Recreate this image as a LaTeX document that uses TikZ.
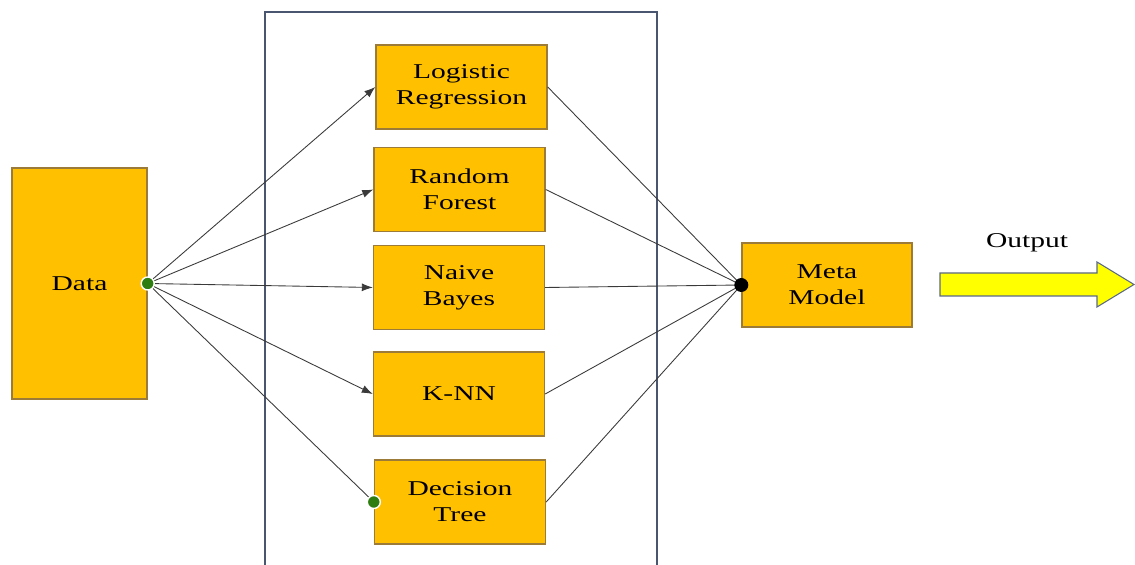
\documentclass[tikz,border=0pt]{standalone}
\usepackage{fontspec}
\setmainfont{Liberation Serif}
\newfontfamily\boxfont[FakeStretch=1.4]{Liberation Serif}
\usepackage{tikz}
\usetikzlibrary{arrows.meta, positioning, calc}
\definecolor{boxfill}{HTML}{FFC000}
\definecolor{boxline}{HTML}{9C7A38}
\definecolor{frameline}{HTML}{4A5670}
\definecolor{ink}{HTML}{3A3A3A}
\definecolor{dotgreen}{HTML}{2E7D10}
\definecolor{outfill}{HTML}{FFFF00}
\definecolor{outline}{HTML}{5A6888}
\tikzset{
  box/.style    ={draw=boxline, thick, fill=boxfill, minimum width=3.42cm,
                  minimum height=1.68cm, align=center, inner sep=2pt,
                  font=\boxfont\fontsize{12}{14.7}\selectfont},
  flow/.style   ={-{Latex[length=2.2mm,width=1.6mm]}, draw=ink, line width=0.5pt},
  flowd/.style  ={draw=ink, line width=0.5pt},
  gdot/.style   ={circle, fill=dotgreen, draw=white, line width=0.8pt,
                  minimum width=2.6mm, minimum height=2.2mm, inner sep=0pt},
  bdot/.style   ={circle, fill=black, inner sep=0pt, minimum size=2.8mm},
  lbl/.style    ={font=\boxfont\fontsize{12}{14.7}\selectfont}
}
\begin{document}
\begin{tikzpicture}
  \useasboundingbox (0,0) rectangle (22.7,11.3);

  % frame round the base models
  \draw[frameline, line width=0.6pt] (5.3,-0.2) -- (5.3,11.06) -- (13.14,11.06) -- (13.14,-0.2);

  \node[box, minimum width=2.7cm, minimum height=4.62cm] (data) at (1.59,5.63) {Data};

  \node[box] (lr)   at (9.23,9.56) {Logistic\\Regression};
  \node[box] (rf)   at (9.19,7.51) {Random\\Forest};
  \node[box] (nb)   at (9.18,5.55) {Naive\\Bayes};
  \node[box] (knn)  at (9.18,3.42) {K-NN};
  \node[box] (dt)   at (9.20,1.26) {Decision\\Tree};

  \node[box, minimum width=3.4cm] (meta) at (16.54,5.6) {Meta\\Model};

  % data to base models
  \draw[flow] (data.east) -- (lr.west);
  \draw[flow] (data.east) -- (rf.west);
  \draw[flow] (data.east) -- (nb.west);
  \draw[flow] (data.east) -- (knn.west);
  \draw[flowd] (data.east) -- (dt.west);

  % base models to meta model
  \foreach \m in {lr, rf, nb, knn, dt}
    \draw[flowd] (\m.east) -- (meta.west);

  \node[bdot] (mdot) at (meta.west) {};
  \node[gdot] (ddot) at (data.east) {};
  \node[gdot] (tdot) at (dt.west) {};

  % output arrow
  \draw[outline, fill=outfill, line width=0.6pt]
    (18.8,5.38) -- (21.94,5.38) -- (21.94,5.16) -- (22.68,5.61)
    -- (21.94,6.06) -- (21.94,5.84) -- (18.8,5.84) -- cycle;
  \node[lbl] (out) at (20.54,6.44) {Output};
\end{tikzpicture}
\end{document}
